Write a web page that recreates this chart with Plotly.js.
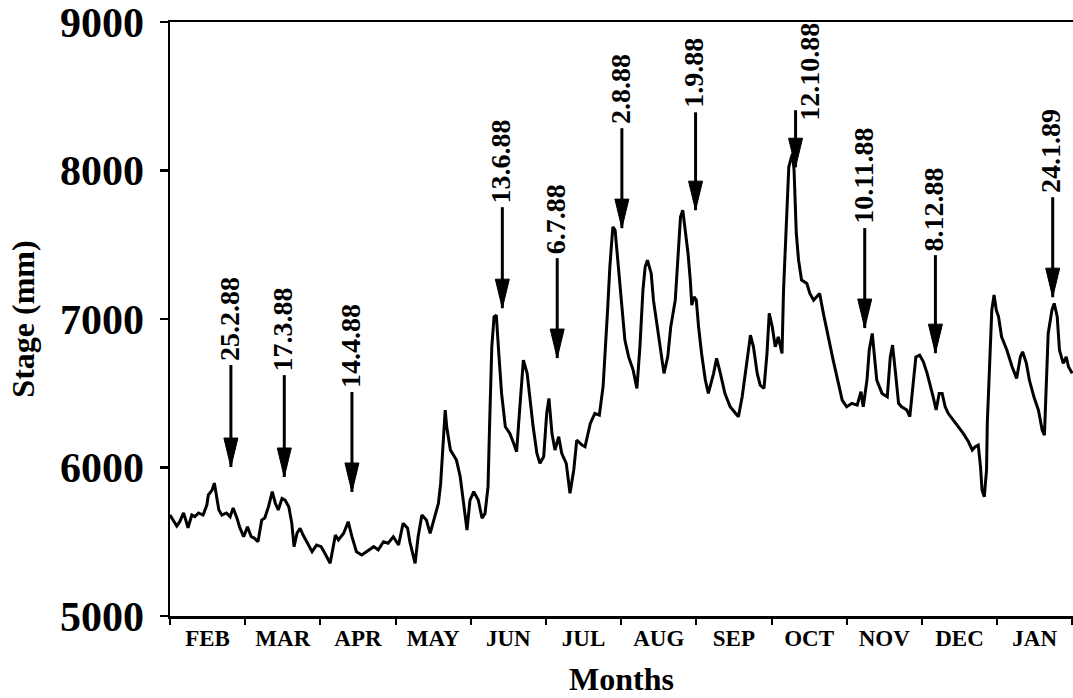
<!DOCTYPE html>
<html><head><meta charset="utf-8">
<script src="https://cdn.plot.ly/plotly-3.0.1.min.js"></script>
<style>html,body{margin:0;padding:0;background:#fff;}#chart{width:1073px;height:698px;}</style>
</head><body><div id="chart"></div>
<script>
// Month labels (Feb 1988 - Jan 1989); x is measured in months from 1 Feb 1988
const monthLabels = ['FEB','MAR','APR','MAY','JUN','JUL','AUG','SEP','OCT','NOV','DEC','JAN'];

// Stage record
const monthPos = [0.00,0.04,0.09,0.13,0.18,0.21,0.24,0.29,0.33,0.38,0.44,0.49,0.51,0.56,0.59,0.62,0.65,0.69,0.75,0.80,0.84,0.89,0.93,0.98,
1.03,1.08,1.12,1.17,1.22,1.26,1.31,1.36,1.40,1.44,1.49,1.53,1.58,1.62,1.65,1.69,1.73,1.77,1.83,1.89,1.95,
2.01,2.06,2.13,2.20,2.24,2.31,2.37,2.42,2.48,2.55,2.62,2.71,2.77,2.84,2.90,2.97,
3.04,3.10,3.16,3.19,3.26,3.30,3.35,3.41,3.46,3.53,3.57,3.60,3.63,3.66,3.68,3.73,3.77,3.81,3.86,3.90,3.95,3.99,
4.04,4.10,4.15,4.19,4.23,4.25,4.28,4.31,4.34,4.37,4.41,4.46,4.52,4.57,4.61,4.66,4.70,4.75,4.79,4.83,4.88,4.92,4.97,
5.01,5.04,5.08,5.12,5.17,5.21,5.27,5.32,5.37,5.41,5.48,5.52,5.59,5.65,5.71,5.76,5.79,5.82,5.85,5.89,5.92,5.96,
6.01,6.05,6.10,6.16,6.21,6.25,6.29,6.32,6.35,6.40,6.43,6.48,6.52,6.57,6.62,6.66,6.72,6.76,6.79,6.82,6.85,6.89,6.92,6.94,6.97,
7.00,7.03,7.07,7.12,7.16,7.23,7.27,7.32,7.38,7.45,7.52,7.56,7.61,7.65,7.72,7.76,7.81,7.85,7.90,7.94,7.97,
8.01,8.05,8.09,8.14,8.16,8.18,8.20,8.23,8.26,8.28,8.30,8.33,8.36,8.40,8.47,8.51,8.56,8.64,8.69,8.76,8.82,8.89,8.94,
9.00,9.07,9.14,9.19,9.22,9.27,9.30,9.34,9.37,9.40,9.47,9.54,9.58,9.61,9.65,9.69,9.73,9.80,9.84,9.89,9.92,9.97,
10.02,10.07,10.11,10.15,10.19,10.23,10.27,10.31,10.35,10.42,10.49,10.55,10.62,10.67,10.71,10.75,10.78,10.80,10.83,10.86,10.87,10.90,10.93,10.96,10.99,
11.02,11.06,11.13,11.20,11.26,11.31,11.34,11.39,11.43,11.49,11.55,11.60,11.63,11.65,11.68,11.73,11.76,11.80,11.83,11.88,11.92,11.95,12.00];

const stageMm = [5680,5646,5606,5635,5694,5646,5593,5680,5669,5694,5680,5747,5815,5848,5895,5803,5714,5680,5694,5669,5727,5660,5593,5534,
5601,5534,5525,5500,5646,5660,5736,5837,5761,5714,5792,5781,5736,5624,5467,5559,5591,5545,5490,5433,5478,
5467,5422,5355,5545,5512,5557,5635,5534,5433,5411,5433,5467,5445,5500,5490,5534,
5478,5624,5591,5500,5355,5534,5680,5646,5557,5691,5759,5893,6163,6387,6274,6117,6084,6050,5938,5759,5579,5781,
5837,5781,5658,5691,5871,6274,6813,7015,7026,6790,6499,6274,6230,6163,6106,6454,6723,6634,6454,6274,6095,6028,6072,
6365,6465,6230,6118,6207,6095,6028,5826,5983,6185,6151,6140,6297,6365,6353,6544,6768,7060,7351,7620,7598,7374,
7105,6858,6745,6656,6533,6813,7194,7351,7396,7307,7127,6947,6791,6634,6745,6947,7127,7418,7688,7733,7620,7441,7262,7093,7149,
7127,6947,6768,6589,6499,6634,6735,6634,6499,6409,6365,6342,6476,6634,6891,6813,6634,6555,6533,6768,7038,
6947,6813,6880,6768,7194,7463,7620,8024,8081,8114,8002,7576,7396,7262,7239,7172,7127,7172,7038,6858,6723,6566,6454,
6409,6432,6420,6510,6409,6589,6791,6903,6745,6589,6499,6476,6745,6824,6634,6432,6409,6387,6342,6566,6745,6757,
6712,6634,6544,6476,6387,6499,6499,6409,6365,6319,6274,6230,6173,6118,6140,6151,6005,5848,5803,5983,6297,6701,7060,7161,7060,
7015,6880,6791,6678,6600,6745,6779,6701,6589,6476,6387,6252,6218,6499,6903,7060,7105,7015,6791,6701,6745,6678,6634];

// Dated events marked with arrows
const eventLabels = ['25.2.88','17.3.88','14.4.88','13.6.88','6.7.88','2.8.88','1.9.88','12.10.88','10.11.88','8.12.88','24.1.89'];
const eventPos  = [0.81,1.52,2.42,4.42,5.15,6.01,6.99,8.32,9.24,10.18,11.74];
const eventTip  = [6003,5936,5835,7073,6737,7612,7733,8022,6939,6770,7147];
const eventTail = [6690,6622,6508,7753,7410,8285,8392,8406,7612,7430,7820];

const serif = 'Liberation Serif';
const black = '#000';

const shapes = [];
const annotations = [];
eventLabels.forEach((lab, i) => {
  shapes.push({type:'line', xref:'x', yref:'y', x0:eventPos[i], x1:eventPos[i], y0:eventTail[i], y1:eventTip[i],
    line:{color:black, width:3}});
  shapes.push({type:'path', xref:'x', yref:'y', xsizemode:'pixel', ysizemode:'pixel',
    xanchor:eventPos[i], yanchor:eventTip[i], path:'M-7,29L7,29L0,0Z',
    fillcolor:black, line:{color:black, width:1}});
  const side = lab === '12.10.88';
  annotations.push({xref:'x', yref:'y', x:eventPos[i], y:eventTail[i], text:lab, showarrow:false,
    textangle:-90, xanchor:'center', yanchor:'bottom', xshift: side ? 14 : -2, yshift: side ? -13 : 2,
    font:{family:serif, size:28, color:black, weight:'bold'}});
});

const trace = {x:monthPos, y:stageMm, type:'scatter', mode:'lines',
  line:{color:black, width:3}, hoverinfo:'skip', showlegend:false};

const layout = {
  width:1073, height:698,
  margin:{l:170, r:0, t:22, b:82},
  paper_bgcolor:'#fff', plot_bgcolor:'#fff',
  showlegend:false,
  xaxis:{range:[0,12.01], showline:true, linecolor:black, linewidth:2.5, mirror:true,
    showgrid:false, zeroline:false, automargin:false, fixedrange:true,
    tickmode:'array', tickvals:monthLabels.map((m,i)=>i+0.5), ticktext:monthLabels, ticks:'',
    ticklabelstandoff:0,
    tickfont:{family:serif, size:23, color:black, weight:'bold'},
    minor:{tickmode:'array', tickvals:monthLabels.map((m,i)=>i).concat([12]), ticks:'outside', ticklen:6, tickwidth:2, tickcolor:black, showgrid:false},
    title:{text:'Months', font:{family:serif, size:32, color:black, weight:'bold'}, standoff:18}},
  yaxis:{range:[5000,9000], showline:true, linecolor:black, linewidth:2.5,
    showgrid:false, zeroline:false, automargin:false, fixedrange:true,
    tickmode:'array', tickvals:[5000,6000,7000,8000,9000], ticks:'outside', ticklen:8, tickwidth:2.5, tickcolor:black,
    ticklabelstandoff:7, ticklabeloverflow:'allow',
    tickfont:{family:serif, size:42, color:black, weight:'bold'},
    title:{text:'Stage (mm)', font:{family:serif, size:32, color:black, weight:'bold'}, standoff:16}},
  shapes:shapes,
  annotations:annotations
};

Plotly.newPlot('chart', [trace], layout, {staticPlot:true, displayModeBar:false});
</script>
</body></html>
